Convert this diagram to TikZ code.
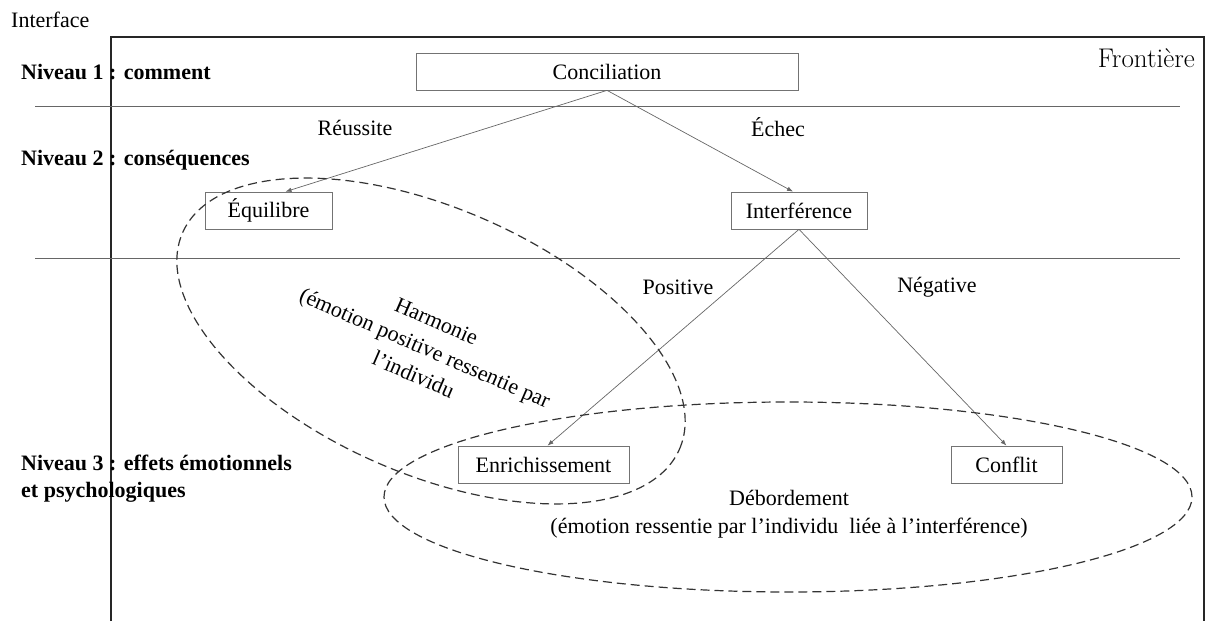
\documentclass[tikz,border=0pt]{standalone}
\usepackage{fontspec}
\newfontfamily\tnr{Liberation Serif}
\usetikzlibrary{arrows.meta}
\tikzset{
  base/.style={font=\tnr\fontsize{22}{27}\selectfont},
  box/.style={base, draw=black!55, line width=0.7pt, inner sep=0pt, minimum height=37pt},
  lvl/.style={font=\tnr\bfseries\fontsize{22}{27}\selectfont, anchor=west, inner sep=0pt},
  lbl/.style={base, inner sep=0pt},
  conn/.style={draw=black!60, line width=0.7pt, -{Latex[length=6pt,width=4.5pt]}},
  frame/.style={draw=black!85, line width=1.4pt},
  sep/.style={draw=black!60, line width=0.9pt},
  dashell/.style={draw=black!80, line width=1.2pt, dash pattern=on 9pt off 5pt}
}
\begin{document}
\begin{tikzpicture}[x=1pt,y=1pt]
\useasboundingbox (0,0) rectangle (1207,621);
% frame
\draw[frame] (111,0) -- (111,584) -- (1204,584) -- (1204,0);
\draw[sep] (35,515) -- (1180,515);
\draw[sep] (35,363) -- (1180,363);
% texts outside
\node[lbl, anchor=west] (iface) at (11,601) {Interface};
\node[anchor=east, inner sep=0pt, font=\fontsize{27}{32}\selectfont] (front) at (1195,563) {Frontière};
\node[lvl] (n1) at (21,549) {Niveau 1 : comment};
\node[lvl] (n2) at (21,461) {Niveau 2 : conséquences};
\node[lvl, align=left] (n3) at (21,142) {Niveau 3 : effets émotionnels\\et psychologiques};
% boxes
\node[box, minimum width=382pt] (conc) at (607,549.5) {Conciliation};
\node[box, minimum width=127pt] (equ) at (268.5,410.5) {Équilibre};
\node[box, minimum width=136pt] (intf) at (799,410.5) {Interférence};
\node[box, minimum width=171pt] (enr) at (543.5,156.5) {Enrichissement};
\node[box, minimum width=111pt] (conf) at (1006.5,156.5) {Conflit};
% labels
\node[lbl] (reu) at (355,493) {Réussite};
\node[lbl] (ech) at (778,494) {Échec};
\node[lbl] (pos) at (678,334) {Positive};
\node[lbl] (neg) at (937,334) {Négative};
% connectors
\draw[conn] (conc.south) -- ([xshift=17pt]equ.north);
\draw[conn] (conc.south) -- ([xshift=-6pt]intf.north);
\draw[conn] (intf.south) -- ([xshift=4pt]enr.north);
\draw[conn] (intf.south) -- (conf.north);
% ellipses
\draw[dashell, rotate around={-23.5:(431,280)}] (431,280) ellipse [x radius=271, y radius=133];
\node[inner sep=0pt, align=center, rotate=-23.5, font=\tnr\fontsize{22}{29}\selectfont] (harm) at (425,273) {Harmonie\\(émotion positive ressentie par\\l’individu};
\draw[dashell] (788,124) ellipse [x radius=404, y radius=95];
\node[lbl, align=center, font=\tnr\fontsize{22}{28}\selectfont] (deb) at (789,107) {Débordement\\(émotion ressentie par l’individu\ \ liée à l’interférence)};
\end{tikzpicture}
\end{document}
